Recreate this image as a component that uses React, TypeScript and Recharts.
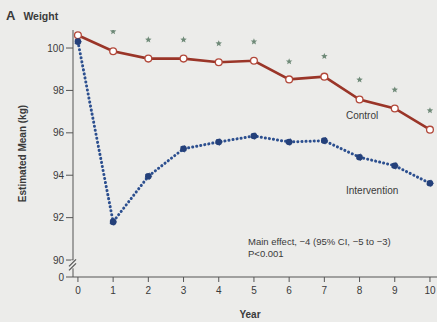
import React from "react";
import {
  ComposedChart,
  Line,
  Scatter,
  XAxis,
  YAxis,
  ReferenceDot,
  Label,
} from "recharts";

const years = [0, 1, 2, 3, 4, 5, 6, 7, 8, 9, 10];
const controlWeight = [100.6, 99.85, 99.5, 99.5, 99.33, 99.4, 98.52, 98.65, 97.57, 97.15, 96.15];
const interventionWeight = [100.3, 91.8, 93.95, 95.25, 95.57, 95.85, 95.57, 95.63, 94.85, 94.45, 93.62];
// significance stars, years 1..10
const starYears = [1, 2, 3, 4, 5, 6, 7, 8, 9, 10];
const starLevels = [100.78, 100.39, 100.39, 100.21, 100.3, 99.36, 99.61, 98.5, 98.03, 97.05];
const yTicks = [89.2, 90, 92, 94, 96, 98, 100];
const xTicks = [0, 1, 2, 3, 4, 5, 6, 7, 8, 9, 10];

const FONT = "'Liberation Sans', 'DejaVu Sans', sans-serif";
const TEXT = "#3a3a3a";

const data = years.map((year, i) => ({
  year,
  control: controlWeight[i],
  intervention: interventionWeight[i],
}));

const starData = starYears.map((year, i) => ({ year, star: starLevels[i] }));

const BreakMark = (props: any) => {
  const { cx, cy } = props;
  if (cx == null || cy == null) return null;
  return (
    <g>
      <rect x={cx - 2} y={cy - 5} width={4} height={8} fill="#ececea" />
      <line x1={cx - 4} y1={cy + 1} x2={cx + 3} y2={cy - 6} stroke="#555" strokeWidth={1.2} />
      <line x1={cx - 4} y1={cy + 5} x2={cx + 3} y2={cy - 2} stroke="#555" strokeWidth={1.2} />
    </g>
  );
};

const Star = (props: any) => {
  const { cx, cy } = props;
  const pts: string[] = [];
  for (let k = 0; k < 10; k++) {
    const r = k % 2 === 0 ? 3.4 : 1.5;
    const a = -Math.PI / 2 + (k * Math.PI) / 5;
    pts.push(`${cx + r * Math.cos(a)},${cy + r * Math.sin(a)}`);
  }
  return <polygon points={pts.join(" ")} fill="#6f8a78" />;
};

export default function App() {
  return (
    <div
      style={{
        position: "absolute",
        left: 0,
        top: 0,
        width: 437,
        height: 322,
        background: "#ececea",
        fontFamily: FONT,
        overflow: "hidden",
      }}
    >
      <ComposedChart
        width={437}
        height={322}
        data={data}
        margin={{ top: 30, right: 0, left: 0, bottom: 0 }}
      >
        <XAxis
          type="number"
          dataKey="year"
          domain={[-0.14, 10.2]}
          ticks={xTicks}
          allowDataOverflow
          height={45}
          stroke="#555"
          tickSize={5}
          tickMargin={5}
          tick={{ fill: TEXT, fontSize: 10, fontFamily: FONT }}
        >
          <Label
            value="Year"
            position="insideBottom"
            offset={4}
            dx={-5}
            style={{ fill: TEXT, fontSize: 10, fontWeight: 700, fontFamily: FONT }}
          />
        </XAxis>
        <YAxis
          type="number"
          domain={[89.2, 100.85]}
          ticks={yTicks}
          allowDataOverflow
          width={73}
          stroke="#555"
          tickSize={7}
          tickMargin={2}
          tickFormatter={(v: number) => (v < 89.5 ? "0" : String(v))}
          tick={{ fill: TEXT, fontSize: 10, fontFamily: FONT }}
        >
          <Label
            value="Estimated Mean (kg)"
            angle={-90}
            position="insideLeft"
            offset={22}
            style={{ fill: TEXT, fontSize: 10, fontWeight: 700, fontFamily: FONT, textAnchor: "middle" }}
          />
        </YAxis>
        <ReferenceDot x={-0.14} y={89.75} r={0} ifOverflow="visible" shape={BreakMark} />
        <Line
          type="linear"
          dataKey="control"
          stroke="#9a3528"
          strokeWidth={2.6}
          dot={{ r: 3.4, fill: "#ffffff", stroke: "#b2483a", strokeWidth: 1.3 }}
          isAnimationActive={false}
        />
        <Line
          type="linear"
          dataKey="intervention"
          stroke="#2c4f8f"
          strokeWidth={3}
          strokeDasharray="0.1 4"
          strokeLinecap="round"
          dot={{ r: 3.3, fill: "#24407a", stroke: "#24407a", strokeWidth: 1 }}
          isAnimationActive={false}
        />
        <Scatter
          data={starData}
          dataKey="star"
          shape={Star}
          isAnimationActive={false}
        />
      </ComposedChart>
      <div style={{ position: "absolute", left: 6, top: 6, color: TEXT, fontWeight: 700, whiteSpace: "nowrap" }}>
        <span style={{ fontSize: 13 }}>A</span>
        <span style={{ fontSize: 10.5, marginLeft: 8 }}>Weight</span>
      </div>
      <div style={{ position: "absolute", left: 346, top: 110, fontSize: 10, color: TEXT }}>Control</div>
      <div style={{ position: "absolute", left: 346, top: 185, fontSize: 10, color: TEXT }}>Intervention</div>
      <div style={{ position: "absolute", left: 248, top: 236, fontSize: 9.5, color: TEXT, lineHeight: "12px", whiteSpace: "nowrap" }}>
        Main effect, −4 (95% CI, −5 to −3)
        <br />
        P&lt;0.001
      </div>
    </div>
  );
}
